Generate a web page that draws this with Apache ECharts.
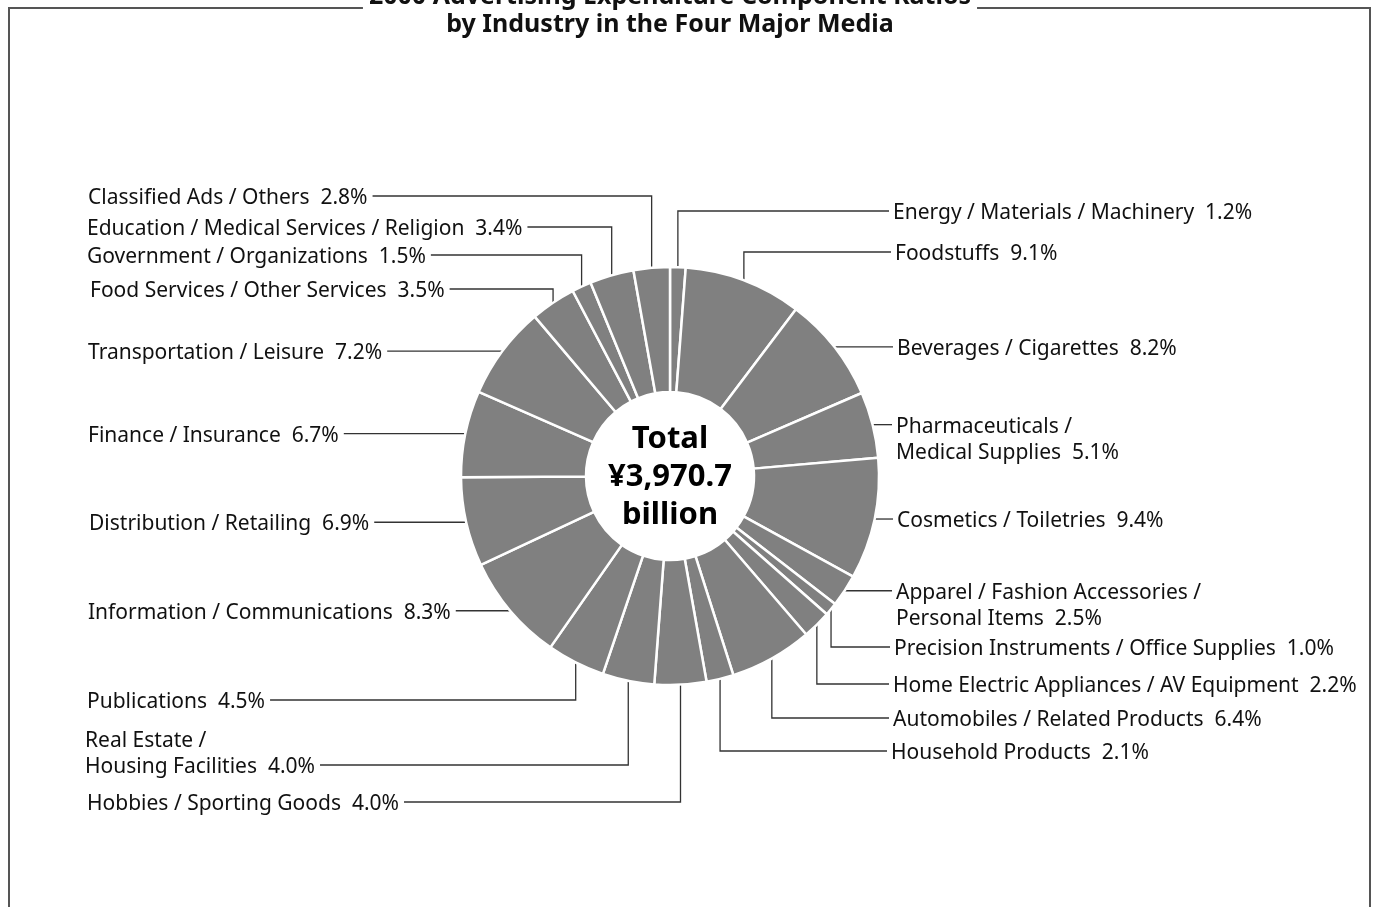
<!DOCTYPE html>
<html><head><meta charset="utf-8">
<script src="https://cdn.jsdelivr.net/npm/echarts@6/dist/echarts.min.js"></script>
<style>html,body{margin:0;padding:0;background:#fff}#c{width:1378px;height:907px}</style>
</head><body><div id="c"></div>
<script>
// ---- data ----
const categories = [
  'Energy / Materials / Machinery',
  'Foodstuffs',
  'Beverages / Cigarettes',
  'Pharmaceuticals /\nMedical Supplies',
  'Cosmetics / Toiletries',
  'Apparel / Fashion Accessories /\nPersonal Items',
  'Precision Instruments / Office Supplies',
  'Home Electric Appliances / AV Equipment',
  'Automobiles / Related Products',
  'Household Products',
  'Hobbies / Sporting Goods',
  'Real Estate /\nHousing Facilities',
  'Publications',
  'Information / Communications',
  'Distribution / Retailing',
  'Finance / Insurance',
  'Transportation / Leisure',
  'Food Services / Other Services',
  'Government / Organizations',
  'Education / Medical Services / Religion',
  'Classified Ads / Others'
];
const ratios = [1.2, 9.1, 8.2, 5.1, 9.4, 2.5, 1.0, 2.2, 6.4, 2.1, 4.0, 4.0, 4.5, 8.3, 6.9, 6.7, 7.2, 3.5, 1.5, 3.4, 2.8];
const titleLines = ['2000 Advertising Expenditure Component Ratios', 'by Industry in the Four Major Media'];
const centerLines = ['Total', '¥3,970.7', 'billion'];

// ---- label layout (positions only) ----
// x: left edge of label text; y: leader line height (null = straight from slice); row: which text row the line meets
const labelSpec = [
  {x: 893, y: 211}, {x: 895, y: 252}, {x: 897, y: null}, {x: 896, y: null, row: 0},
  {x: 897, y: null}, {x: 896, y: null, row: 0}, {x: 894, y: 647}, {x: 893, y: 684},
  {x: 893, y: 718}, {x: 891, y: 751},
  {x: 87, y: 802}, {x: 85, y: 765, row: 1}, {x: 87, y: 700}, {x: 88, y: null},
  {x: 89, y: null}, {x: 88, y: null}, {x: 88, y: null}, {x: 90, y: 289},
  {x: 87, y: 255}, {x: 87, y: 227}, {x: 88, y: 196}
];
const CX = 670, CY = 476;
const FONT = 'Noto Sans';
const TEXT_SHIFT = 2;

const chart = echarts.init(document.getElementById('c'), null, {renderer: 'canvas'});
chart.setOption({
  animation: false,
  backgroundColor: '#fff',
  graphic: [
    {type: 'rect', z: 1, silent: true, shape: {x: 9, y: 8, width: 1361, height: 930},
     style: {fill: 'none', stroke: '#555', lineWidth: 2}},
    {type: 'text', z: 5, silent: true, x: CX, y: -17,
     style: {text: titleLines.join('\n'), align: 'center', verticalAlign: 'top',
       font: 'bold 25px "' + FONT + '"', lineHeight: 28, fill: '#111',
       backgroundColor: '#fff', padding: [0, 6, 0, 6]}},
    {type: 'text', z: 5, silent: true, x: CX, y: CY + 1,
     style: {text: centerLines.join('\n'), align: 'center', verticalAlign: 'middle',
       font: 'bold 31px "' + FONT + '"', lineHeight: 38, fill: '#000'}}
  ],
  series: [{
    type: 'pie',
    center: [CX, CY],
    radius: [84, 209],
    startAngle: 90,
    clockwise: true,
    avoidLabelOverlap: false,
    silent: true,
    itemStyle: {color: '#808080', borderColor: '#fff', borderWidth: 2.5},
    label: {
      show: true, position: 'outside', color: '#111', fontFamily: FONT, fontSize: 21,
      lineHeight: 26,
      formatter: p => p.name + '  ' + p.value.toFixed(1) + '%'
    },
    labelLine: {show: true, lineStyle: {color: '#333', width: 1.3}},
    labelLayout: function (p) {
      const s = labelSpec[p.dataIndex];
      const a = p.labelLinePoints[0];
      const lineY = s.y == null ? a[1] : s.y;
      const rows = categories[p.dataIndex].split('\n').length;
      let ty = lineY;
      if (rows === 2) ty = lineY + (s.row === 1 ? -13 : 13);
      const right = s.x > CX;
      const endX = right ? s.x - 4 : s.x + p.labelRect.width + 5;
      let pts;
      if (s.y == null) pts = [[a[0], a[1]], [(a[0] + endX) / 2, a[1]], [endX, a[1]]];
      else pts = [[a[0], a[1]], [a[0], lineY], [endX, lineY]];
      return {x: s.x, y: ty + TEXT_SHIFT, align: 'left', verticalAlign: 'middle', labelLinePoints: pts};
    },
    data: categories.map((c, i) => ({name: c, value: ratios[i]}))
  }]
});
</script></body></html>
